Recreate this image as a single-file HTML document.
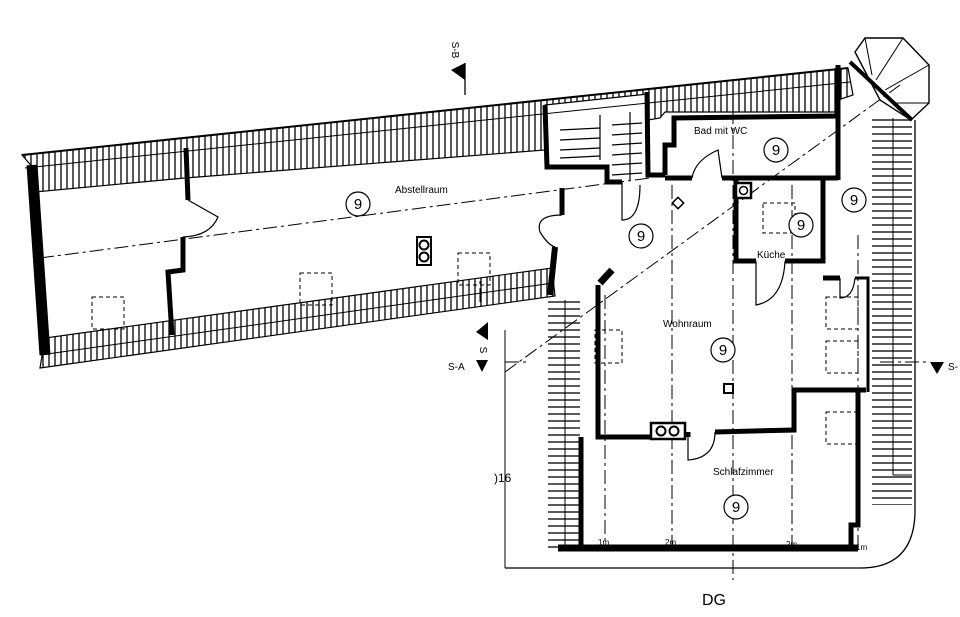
<!DOCTYPE html>
<html><head><meta charset="utf-8"><style>
html,body{margin:0;padding:0;background:#fff;}
svg{display:block;}
text{font-family:"Liberation Sans",sans-serif;fill:#000;}
</style></head><body>
<svg width="960" height="617" viewBox="0 0 960 617" xmlns="http://www.w3.org/2000/svg">
<defs>
<pattern id="vh" width="6" height="10" patternUnits="userSpaceOnUse"><rect width="6" height="10" fill="#fff"/><line x1="1" y1="0" x2="1" y2="10" stroke="#000" stroke-width="1.3"/></pattern>
<pattern id="hh" width="10" height="7" patternUnits="userSpaceOnUse"><rect width="10" height="7" fill="#fff"/><line x1="0" y1="1" x2="10" y2="1" stroke="#000" stroke-width="1.3"/></pattern>
</defs>
<!-- roof bands -->
<polygon points="22,155 848,68 853,95 838,100 838,112 665,112 660,118 648,120 648,94 545,105 545,150 185,178 35,192 35,170" fill="url(#vh)" stroke="#000" stroke-width="1.2"/>
<line x1="22" y1="155" x2="848" y2="68" stroke="#000" stroke-width="2"/>
<line x1="25" y1="168" x2="850" y2="82" stroke="#000" stroke-width="1"/>
<polygon points="40,368 555,296 552,268 45,338" fill="url(#vh)" stroke="#000" stroke-width="1.2"/>
<line x1="40" y1="355" x2="553" y2="283" stroke="#000" stroke-width="1"/>
<!-- stair hatch -->
<g stroke="#000" stroke-width="1.2">
<line x1="560" y1="130" x2="600" y2="128"/><line x1="560" y1="140" x2="600" y2="138"/><line x1="560" y1="150" x2="600" y2="148"/><line x1="560" y1="158" x2="600" y2="156"/>
<line x1="612" y1="125" x2="642" y2="123"/><line x1="612" y1="135" x2="642" y2="133"/><line x1="612" y1="145" x2="642" y2="143"/><line x1="612" y1="155" x2="642" y2="153"/><line x1="612" y1="165" x2="642" y2="163"/><line x1="612" y1="175" x2="642" y2="173"/>
<line x1="600" y1="115" x2="600" y2="160"/><line x1="630" y1="112" x2="630" y2="180"/>
</g>
<rect x="548" y="108" width="97" height="10" fill="none" stroke="#000" stroke-width="0"/>
<!-- right hatch -->
<path d="M872,118 L912,118 L912,505 L872,505 Z" fill="url(#hh)"/>
<path d="M548,300 L580,300 L580,548 L548,548 Z" fill="url(#hh)"/>
<line x1="893" y1="118" x2="893" y2="475" stroke="#000" stroke-width="1"/>
<line x1="893" y1="475" x2="912" y2="475" stroke="#000" stroke-width="1"/>
<line x1="565" y1="300" x2="565" y2="548" stroke="#000" stroke-width="1"/>
<!-- outer thin boundary -->
<path d="M505,568 L860,568 Q915,568 915,510 L915,120" fill="none" stroke="#000" stroke-width="1.3"/>
<path d="M505,330 L505,568" fill="none" stroke="#000" stroke-width="1"/>
<!-- octagon -->
<polygon points="855,52 865,38 903,38 929,65 929,103 911,120 880,100" fill="#fff" stroke="#000" stroke-width="1.4"/>
<g stroke="#000" stroke-width="1"><line x1="865" y1="38" x2="872" y2="75"/><line x1="903" y1="38" x2="876" y2="80"/><line x1="929" y1="65" x2="885" y2="90"/><line x1="929" y1="103" x2="895" y2="103"/></g>
<line x1="850" y1="62" x2="912" y2="120" stroke="#000" stroke-width="4"/>
<!-- dashed axes -->
<g stroke="#000" stroke-width="1" fill="none" stroke-dasharray="14,4,3,4">
<line x1="40" y1="258" x2="650" y2="178"/>
<line x1="505" y1="372" x2="900" y2="85"/>
<line x1="605" y1="295" x2="605" y2="545"/>
<line x1="672" y1="185" x2="672" y2="545"/>
<line x1="733" y1="110" x2="733" y2="580"/>
<line x1="792" y1="185" x2="792" y2="545"/>
<line x1="858" y1="235" x2="858" y2="545"/>
<line x1="480" y1="302" x2="480" y2="280"/>
<line x1="880" y1="362" x2="930" y2="362"/>
<line x1="505" y1="362" x2="530" y2="362"/>
</g>
<!-- thick walls -->
<g stroke="#000" fill="none" stroke-width="5" stroke-linejoin="miter">
<polyline points="32,165 45,355" stroke-width="11"/>
<polyline points="545,105 547,167 607,167 607,182 622,182"/>
<polyline points="647,92 648,175 665,175"/>
<polyline points="665,175 665,145 674,145 674,118 837,116 838,65"/>
<polyline points="838,65 838,180"/>
<polyline points="665,178 692,178"/>
<polyline points="722,178 838,178"/>
<polyline points="736,180 736,261 756,261"/>
<polyline points="785,261 823,261 823,180"/>
<polyline points="598,285 598,437 650,437"/>
<polyline points="600,283 612,270" stroke-width="7"/>
<polyline points="688,437 688,432"/>
<polyline points="715,432 794,430 794,390 866,390"/>
<polyline points="581,437 581,548"/>
<polyline points="858,390 858,525 851,525 851,548"/>
<polyline points="558,548 858,548" stroke-width="7"/>
<polyline points="823,278 840,278"/>
<polyline points="855,278 868,278 868,392" stroke-width="3"/>
<polyline points="186,148 188,200"/>
<polyline points="183,237 183,270 168,272 172,335"/>
<polyline points="562,188 562,215"/>
<polyline points="555,247 550,295" stroke-width="6"/>
</g>
<!-- doors -->
<g stroke="#000" stroke-width="1.2" fill="none">
<path d="M188,200 L218,217 Q210,236 183,237"/>
<path d="M562,215 Q535,215 540,232 Q548,245 555,247"/>
<path d="M622,182 L622,220 Q640,220 640,185"/>
<path d="M692,178 Q695,160 718,150 L722,178"/>
<path d="M756,261 L756,305 Q783,300 785,261"/>
<path d="M840,278 L840,298 Q853,298 855,278"/>
<path d="M688,432 L688,460 Q715,458 715,432"/>
</g>
<!-- squares -->
<g fill="none" stroke="#000" stroke-width="1" stroke-dasharray="4,3">
<rect x="92" y="297" width="32" height="32"/><rect x="300" y="273" width="32" height="32"/><rect x="458" y="253" width="32" height="32"/>
<rect x="763" y="203" width="32" height="30"/><rect x="826" y="297" width="32" height="32"/><rect x="826" y="341" width="32" height="32"/>
<rect x="826" y="412" width="32" height="32"/><rect x="595" y="330" width="27" height="33"/>
</g>
<!-- fixtures -->
<rect x="417" y="237" width="14" height="28" fill="#fff" stroke="#000" stroke-width="2"/>
<circle cx="424" cy="245" r="4.5" fill="none" stroke="#000" stroke-width="2"/><circle cx="424" cy="257" r="4.5" fill="none" stroke="#000" stroke-width="2"/>
<rect x="651" y="423" width="34" height="16" fill="#fff" stroke="#000" stroke-width="2.5"/>
<circle cx="661" cy="431" r="4.5" fill="none" stroke="#000" stroke-width="2"/><circle cx="674" cy="431" r="4.5" fill="none" stroke="#000" stroke-width="2"/>
<rect x="736" y="183" width="15" height="15" fill="#fff" stroke="#000" stroke-width="2.5"/><circle cx="743.5" cy="190.5" r="4" fill="none" stroke="#000" stroke-width="1.5"/>
<rect x="674" y="199" width="8" height="8" transform="rotate(45 678 203)" fill="#fff" stroke="#000" stroke-width="1.5"/>
<rect x="724" y="384" width="9" height="9" fill="#fff" stroke="#000" stroke-width="2"/>
<!-- circles with 9 -->
<g fill="#fff" stroke="#000" stroke-width="1.2">
<circle cx="358" cy="204" r="12"/><circle cx="641" cy="236" r="12"/><circle cx="776" cy="150" r="12"/><circle cx="854" cy="200" r="12"/><circle cx="801" cy="225" r="12"/><circle cx="723" cy="350" r="12"/><circle cx="736" cy="507" r="12"/>
</g>
<g font-size="15" text-anchor="middle">
<text x="358" y="209">9</text><text x="641" y="241">9</text><text x="776" y="155">9</text><text x="854" y="205">9</text><text x="801" y="230">9</text><text x="723" y="355">9</text><text x="736" y="512">9</text>
</g>
<!-- section markers -->
<line x1="465" y1="63" x2="465" y2="95" stroke="#000" stroke-width="1.3"/>
<polygon points="451,70 465,63 465,80" fill="#000"/>
<text x="452" y="50" font-size="10" transform="rotate(90 452 50)" text-anchor="middle">S-B</text>
<polygon points="476,332 488,322 488,340" fill="#000"/>
<polygon points="476,360 488,360 482,372" fill="#000"/>
<polygon points="930,362 944,362 937,374" fill="#000"/>
<text x="480" y="350" font-size="10" transform="rotate(90 480 350)" text-anchor="middle">S</text>
<!-- labels -->
<g font-size="10">
<text x="395" y="193">Abstellraum</text>
<text x="694" y="134">Bad mit WC</text>
<text x="757" y="258">Küche</text>
<text x="663" y="327">Wohnraum</text>
<text x="713" y="475">Schlafzimmer</text>
<text x="448" y="370">S-A</text>
<text x="948" y="370">S-</text>
<text x="494" y="482" font-size="12">)16</text>
<text x="598" y="545" font-size="8">1m</text>
<text x="665" y="545" font-size="8">2m</text>
<text x="786" y="547" font-size="8">2m</text>
<text x="856" y="550" font-size="8">1m</text>
</g>
<text x="702" y="605" font-size="16">DG</text>
</svg>
</body></html>
